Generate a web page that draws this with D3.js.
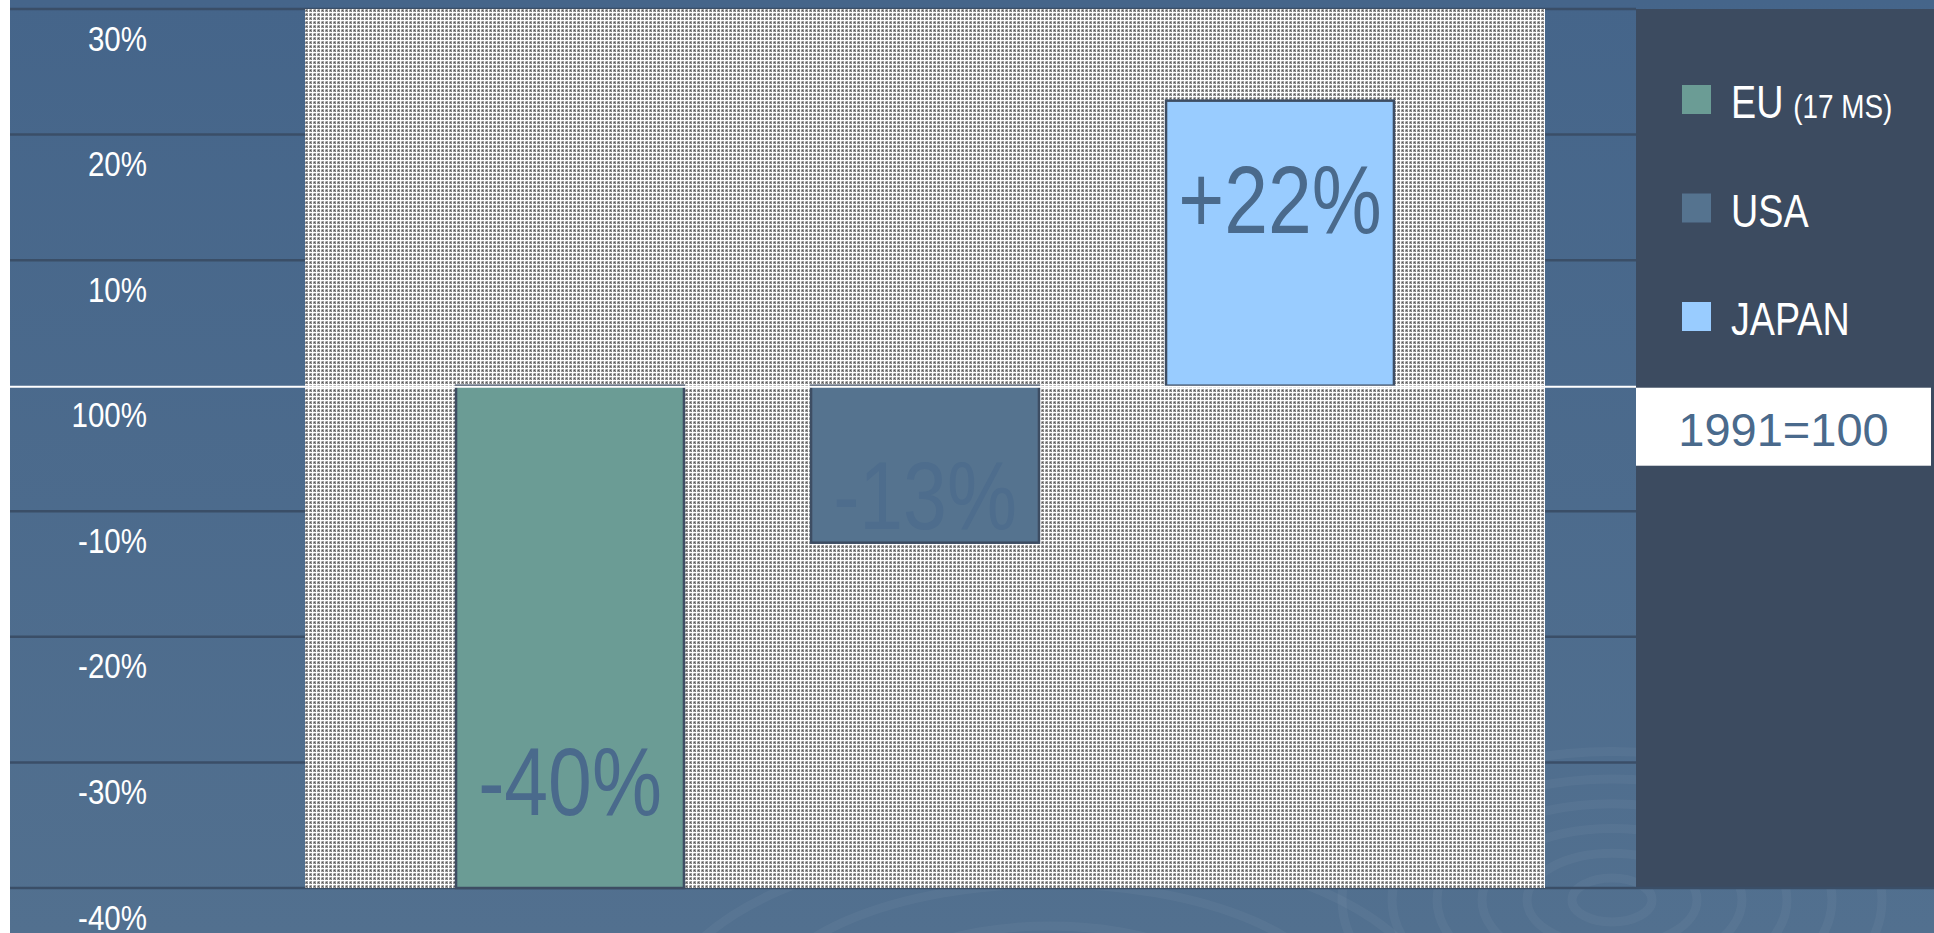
<!DOCTYPE html>
<html><head><meta charset="utf-8">
<script src="https://cdn.jsdelivr.net/npm/d3@7/dist/d3.min.js"></script>
<style>
html,body{margin:0;padding:0;background:#fff;overflow:hidden}
svg{display:block}
text{font-family:'Liberation Sans',Arial,sans-serif}
</style></head>
<body>
<script>
// ---- data ----
const categories = ["EU", "USA", "JAPAN"];
const categoryNotes = ["(17 MS)", "", ""];
const values = [-40, -12.5, 22.7];
const valueLabels = ["-40%", "-13%", "+22%"];
const tickValues = [30, 20, 10, 0, -10, -20, -30, -40];
const tickLabels = ["30%", "20%", "10%", "100%", "-10%", "-20%", "-30%", "-40%"];
const baseNote = "1991=100";
const colors = ["#6b9c95", "#55738f", "#99ccff"];

const W = 1934, H = 933;
const NARROW = 0.82;
const svg = d3.select("body").append("svg").attr("width", W).attr("height", H);
const defs = svg.append("defs");

// background gradient
const bg = defs.append("linearGradient").attr("id", "bg").attr("x1", 0).attr("y1", 0).attr("x2", 0).attr("y2", 1);
bg.append("stop").attr("offset", "0%").attr("stop-color", "#45658a");
bg.append("stop").attr("offset", "100%").attr("stop-color", "#52708f");

// fine checker pattern
const pat = defs.append("pattern").attr("id", "chk").attr("patternUnits", "userSpaceOnUse")
  .attr("width", 4).attr("height", 4);
pat.append("rect").attr("width", 4).attr("height", 4).attr("fill", "#ffffff");
pat.append("rect").attr("x", 1).attr("y", 1).attr("width", 3).attr("height", 3).attr("fill", "#9c9c9c");
pat.append("rect").attr("x", 2).attr("y", 2).attr("width", 1).attr("height", 1).attr("fill", "#555555");
pat.append("rect").attr("x", 1).attr("y", 1).attr("width", 1).attr("height", 1).attr("fill", "#c8c8c8");
pat.append("rect").attr("x", 3).attr("y", 3).attr("width", 1).attr("height", 1).attr("fill", "#7c7c7c");

const plotL = 305, plotR = 1545, panelL = 1636, leftEdge = 10;

const y = d3.scaleLinear().domain([-40, 30]).range([888, 9]);
const x = d3.scaleBand().domain(categories).range([plotL, plotR]).paddingInner(0.358).paddingOuter(0.4255);

// background
svg.append("rect").attr("x", leftEdge).attr("y", 0).attr("width", W - leftEdge).attr("height", H).attr("fill", "url(#bg)");

// swirls
const sw = svg.append("g").attr("fill", "none").attr("stroke", "#ffffff").attr("stroke-opacity", 0.04).attr("stroke-width", 9);
[40, 85, 130, 175, 220, 270].forEach(r => sw.append("ellipse").attr("cx", 1612).attr("cy", 900).attr("rx", r).attr("ry", r * 0.55));
[60, 120, 180, 240].forEach(r => sw.append("ellipse").attr("cx", 1050).attr("cy", 1010).attr("rx", r * 1.6).attr("ry", r * 0.7));

// gridlines
svg.append("g").selectAll("line").data(tickValues.filter(v => v !== 0)).join("line")
  .attr("x1", leftEdge).attr("x2", panelL).attr("y1", d => y(d)).attr("y2", d => y(d))
  .attr("stroke", "#3a4e67").attr("stroke-width", 2.5);

// plot area
svg.append("rect").attr("x", plotL).attr("y", y(30)).attr("width", plotR - plotL).attr("height", y(-40) - y(30))
  .attr("fill", "url(#chk)").attr("shape-rendering", "crispEdges");

// legend panel
svg.append("rect").attr("x", panelL).attr("y", y(30)).attr("width", W - panelL).attr("height", y(-40) - y(30)).attr("fill", "#3c4b60");
svg.append("line").attr("x1", panelL).attr("x2", W).attr("y1", y(-40)).attr("y2", y(-40)).attr("stroke", "#3a4e67").attr("stroke-width", 2.5);

// bars
svg.append("g").selectAll("rect").data(values).join("rect")
  .attr("x", (d, i) => x(categories[i]))
  .attr("width", x.bandwidth())
  .attr("y", d => Math.min(y(d), y(0)))
  .attr("height", d => Math.abs(y(d) - y(0)))
  .attr("fill", (d, i) => colors[i])
  .attr("stroke", "#3d4d63").attr("stroke-width", 2.5);

// zero line
svg.append("line").attr("x1", leftEdge).attr("x2", panelL).attr("y1", y(0) + 1).attr("y2", y(0) + 1)
  .attr("stroke", "#ffffff").attr("stroke-width", 2);

// bar value labels (placement as fraction of bar length from baseline)
const labelFrac = [0.855, 0.91, 0.535];
const labelColors = ["#4a6a8c", "#4e6d8d", "#4a6a8c"];
svg.append("g").selectAll("text").data(values).join("text")
  .attr("transform", (d, i) => `translate(${x(categories[i]) + x.bandwidth() / 2},${y(0) + (y(d) - y(0)) * labelFrac[i]}) scale(${NARROW},1)`)
  .attr("text-anchor", "middle")
  .attr("font-size", 96)
  .attr("fill", (d, i) => labelColors[i])
  .text((d, i) => valueLabels[i]);

// y axis
const axis = d3.axisLeft(y).tickValues(tickValues).tickSize(0).tickPadding(0)
  .tickFormat((d, i) => tickLabels[i]);
const ag = svg.append("g").attr("transform", "translate(147,0)").call(axis);
ag.select(".domain").remove();
ag.attr("font-family", null).attr("font-size", null);
ag.selectAll("text").attr("font-size", 36).attr("fill", "#ffffff")
  .attr("dy", null).attr("x", 0).attr("y", 0)
  .attr("transform", `translate(0,41) scale(${NARROW},1)`);

// legend
const legY0 = 85, legStep = 108.5;
categories.forEach((c, i) => {
  const g = svg.append("g").attr("transform", `translate(1682,${legY0 + i * legStep})`);
  g.append("rect").attr("width", 29).attr("height", 29).attr("fill", colors[i]);
  const t = g.append("text").attr("transform", `translate(49,33) scale(${NARROW},1)`)
    .attr("fill", "#ffffff").attr("font-size", 46);
  t.append("tspan").text(c);
  if (categoryNotes[i]) t.append("tspan").attr("font-size", 34).attr("dx", 12).text(categoryNotes[i]);
});

// base note box
const boxR = 1931;
svg.append("rect").attr("x", panelL).attr("y", y(0) + 2).attr("width", boxR - panelL).attr("height", 78).attr("fill", "#ffffff");
svg.append("text").attr("x", (panelL + boxR) / 2).attr("y", y(0) + 60).attr("text-anchor", "middle")
  .attr("font-size", 47).attr("fill", "#4a6a8c").text(baseNote);
</script>
</body></html>
